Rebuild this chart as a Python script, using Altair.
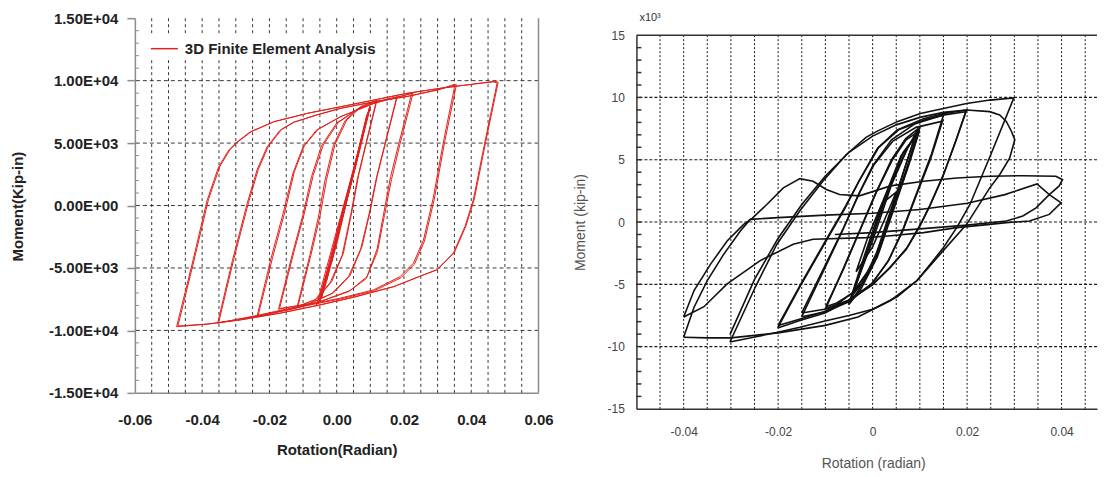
import altair as alt
import pandas as pd

FONT = "Liberation Sans"

# ================= Left panel: 3D finite element analysis =================
# (rotation in radian, moment in kip-in)
fe_e1 = [(-0.0015, -4500), (0.0020, -600), (0.0055, 3300), (0.0072, 5000), (0.0045, 2000), (0.0005, -2200), (-0.0015, -4500)]
fe_e2 = [(-0.0030, -6000), (0.0015, -1000), (0.0060, 3800), (0.0085, 6500), (0.0055, 3000), (0.0000, -2800), (-0.0030, -6000)]
fe_e3 = [(-0.0045, -7400), (0.0010, -1500), (0.0065, 4400), (0.0095, 7600), (0.0060, 3800), (-0.0005, -3200), (-0.0045, -7400)]
fe_e4 = [(-0.0055, -7900), (0.0005, -1800), (0.0068, 4500), (0.0099, 7960), (0.0062, 3900), (-0.0010, -3800), (-0.0055, -7900)]
fe_e5 = [(-0.0060, -7960), (0.0000, -2000), (0.0070, 4800), (0.0100, 7900), (0.0060, 3500), (-0.0015, -4200), (-0.0060, -7960)]
fe_e6 = [(-0.0040, -7000), (0.0012, -1200), (0.0062, 4200), (0.0090, 7300), (0.0058, 3600), (0.0002, -2900), (-0.0040, -7000)]
fe_e7 = [(-0.0050, -7700), (0.0008, -1400), (0.0066, 4600), (0.0097, 7800), (0.0064, 4100), (-0.0004, -3300), (-0.0050, -7700)]
fe_12a = [(-0.0118, -8140), (-0.0080, -4000), (-0.0055, -1000), (-0.0035, 2000), (-0.0010, 4800), (0.0025, 6800),
          (0.0070, 7900), (0.0120, 8450), (0.0090, 5200), (0.0065, 2400), (0.0045, -500), (0.0020, -3800),
          (-0.0015, -6100), (-0.0060, -7500), (-0.0118, -8140)]
fe_12b = [(-0.0115, -8050), (-0.0076, -3900), (-0.0050, -900), (-0.0030, 2100), (-0.0005, 4900), (0.0030, 6850),
          (0.0075, 7950), (0.0118, 8380), (0.0088, 5100), (0.0062, 2200), (0.0042, -700), (0.0016, -4000),
          (-0.0020, -6200), (-0.0065, -7550), (-0.0115, -8050)]
fe_18a = [(-0.0173, -8300), (-0.0130, -3700), (-0.0100, -700), (-0.0075, 2300), (-0.0045, 4800), (0.0000, 6600),
          (0.0060, 7700), (0.0120, 8300), (0.0180, 8720), (0.0145, 5000), (0.0120, 2300), (0.0100, -400),
          (0.0075, -3300), (0.0040, -5600), (-0.0010, -7000), (-0.0080, -7850), (-0.0173, -8300)]
fe_18b = [(-0.0170, -8250), (-0.0126, -3600), (-0.0096, -600), (-0.0070, 2400), (-0.0040, 4850), (0.0005, 6650),
          (0.0065, 7750), (0.0125, 8350), (0.0178, 8650), (0.0143, 4900), (0.0117, 2100), (0.0097, -600),
          (0.0071, -3500), (0.0035, -5700), (-0.0015, -7050), (-0.0085, -7900), (-0.0170, -8250)]
fe_23a = [(-0.0237, -8900), (-0.0195, -4200), (-0.0160, -700), (-0.0130, 2600), (-0.0100, 4700), (-0.0060, 6050),
          (0.0010, 7100), (0.0110, 8180), (0.0223, 8980), (0.0185, 5000), (0.0160, 2300), (0.0140, -600),
          (0.0120, -3500), (0.0090, -5700), (0.0040, -6800), (-0.0040, -7600), (-0.0120, -8200), (-0.0237, -8900)]
fe_23b = [(-0.0234, -8850), (-0.0190, -4100), (-0.0155, -600), (-0.0126, 2700), (-0.0096, 4800), (-0.0055, 6100),
          (0.0015, 7150), (0.0115, 8230), (0.0227, 9000), (0.0188, 4900), (0.0163, 2100), (0.0142, -800),
          (0.0121, -3700), (0.0088, -5850), (0.0035, -6900), (-0.0045, -7650), (-0.0125, -8250), (-0.0234, -8850)]
fe_35a = [(-0.0354, -9420), (-0.0310, -4400), (-0.0266, 180), (-0.0237, 2840), (-0.0207, 4700), (-0.0168, 6040),
          (-0.0130, 6650), (-0.0060, 7250), (0.0010, 7770), (0.0110, 8300), (0.0208, 8720), (0.0300, 9250),
          (0.0352, 9720), (0.0318, 5200), (0.0287, 600), (0.0258, -2760), (0.0228, -4620), (0.0188, -5700),
          (0.0109, -6760), (0.0010, -7420), (-0.0138, -8220), (-0.0237, -8800), (-0.0354, -9420)]
fe_35b = [(-0.0351, -9380), (-0.0306, -4300), (-0.0262, 250), (-0.0233, 2900), (-0.0203, 4750), (-0.0164, 6080),
          (-0.0126, 6680), (-0.0056, 7280), (0.0014, 7800), (0.0114, 8330), (0.0212, 8750), (0.0302, 9280),
          (0.0356, 9680), (0.0321, 5100), (0.0290, 500), (0.0261, -2850), (0.0231, -4700), (0.0191, -5780),
          (0.0112, -6820), (0.0013, -7470), (-0.0135, -8260), (-0.0234, -8840), (-0.0351, -9380)]
fe_48a = [(-0.0476, -9700), (-0.0430, -4700), (-0.0385, 440), (-0.0351, 3100), (-0.0321, 4440), (-0.0296, 5100),
          (-0.0257, 5900), (-0.0188, 6700), (-0.0088, 7380), (0.0010, 7900), (0.0109, 8440), (0.0208, 8980),
          (0.0307, 9380), (0.0406, 9720), (0.0465, 9900), (0.0477, 9820), (0.0440, 5000), (0.0406, 440),
          (0.0381, -1700), (0.0347, -3800), (0.0297, -5160), (0.0258, -5560), (0.0169, -6500), (0.0050, -7350),
          (-0.0049, -7960), (-0.0168, -8620), (-0.0286, -9160), (-0.0385, -9500), (-0.0476, -9700)]
fe_48b = [(-0.0472, -9650), (-0.0426, -4600), (-0.0381, 500), (-0.0347, 3150), (-0.0317, 4480), (-0.0292, 5130),
          (-0.0253, 5930), (-0.0184, 6730), (-0.0084, 7400), (0.0014, 7920), (0.0113, 8460), (0.0212, 9000),
          (0.0311, 9400), (0.0410, 9740), (0.0470, 9950), (0.0480, 9880), (0.0443, 5100), (0.0409, 500),
          (0.0384, -1650), (0.0350, -3750), (0.0300, -5120), (0.0261, -5520), (0.0172, -6470), (0.0053, -7320),
          (-0.0046, -7930), (-0.0165, -8600), (-0.0283, -9140), (-0.0382, -9480), (-0.0472, -9650)]

fe_loops = [("e1", fe_e1), ("e2", fe_e2), ("e3", fe_e3), ("e4", fe_e4), ("e5", fe_e5),
            ("e6", fe_e6), ("e7", fe_e7),
            ("12a", fe_12a), ("12b", fe_12b), ("18a", fe_18a), ("18b", fe_18b),
            ("23a", fe_23a), ("23b", fe_23b), ("35a", fe_35a), ("35b", fe_35b),
            ("48a", fe_48a), ("48b", fe_48b)]
FE_SERIES = "3D Finite Element Analysis"

left_x_ticks = [-0.06, -0.04, -0.02, 0.0, 0.02, 0.04, 0.06]
left_y_ticks = [-15000, -10000, -5000, 0, 5000, 10000, 15000]
left_x_grid = [-0.055, -0.05, -0.045, -0.04, -0.035, -0.03, -0.025, -0.02, -0.015, -0.01, -0.005, 0.0,
               0.005, 0.01, 0.015, 0.02, 0.025, 0.03, 0.035, 0.04, 0.045, 0.05, 0.055]
left_y_grid = [-10000, -5000, 0, 5000, 10000]
left_y_minor = [-14000, -13000, -12000, -11000, -9000, -8000, -7000, -6000, -4000, -3000, -2000, -1000,
                1000, 2000, 3000, 4000, 6000, 7000, 8000, 9000, 11000, 12000, 13000, 14000]

# ================= Right panel: experiment (moment x10^3 kip-in) =================
exp_e1 = [(-0.0035, -4.0), (-0.0010, -1.2), (0.0020, 1.5), (0.0050, 2.4), (0.0030, 0.6), (0.0000, -2.0), (-0.0035, -4.0)]
exp_e2 = [(-0.0051, -6.65), (-0.0020, -3.0), (0.0020, 1.5), (0.0060, 5.3), (0.0099, 7.3), (0.0075, 4.4),
          (0.0040, 0.5), (0.0010, -2.8), (-0.0025, -5.4), (-0.0051, -6.65)]
exp_e3 = [(-0.0048, -6.5), (-0.0015, -2.8), (0.0025, 1.8), (0.0065, 5.6), (0.0095, 7.1), (0.0070, 4.0),
          (0.0035, 0.2), (0.0005, -3.0), (-0.0030, -5.5), (-0.0048, -6.5)]
exp_e4 = [(-0.0045, -6.0), (0.0000, -1.5), (0.0040, 3.0), (0.0075, 6.0), (0.0095, 7.4), (0.0072, 4.8),
          (0.0045, 1.5), (0.0015, -2.2), (-0.0020, -4.8), (-0.0045, -6.0)]
exp_e5 = [(-0.0040, -5.6), (-0.0008, -2.0), (0.0032, 2.4), (0.0070, 5.7), (0.0090, 6.9), (0.0066, 4.1),
          (0.0038, 0.9), (0.0008, -2.5), (-0.0022, -4.9), (-0.0040, -5.6)]
exp_10a = [(-0.0100, -7.0), (-0.0065, -4.0), (-0.0030, -0.9), (0.0005, 2.2), (0.0040, 5.0), (0.0070, 6.7),
           (0.0100, 7.6), (0.0075, 4.6), (0.0050, 1.8), (0.0025, -1.0), (0.0000, -3.4), (-0.0040, -5.6),
           (-0.0075, -6.6), (-0.0100, -7.0)]
exp_10b = [(-0.0099, -6.8), (-0.0062, -3.8), (-0.0027, -0.7), (0.0008, 2.4), (0.0042, 5.0), (0.0071, 6.6),
           (0.0098, 7.3), (0.0073, 4.3), (0.0048, 1.5), (0.0022, -1.3), (-0.0003, -3.6), (-0.0042, -5.7),
           (-0.0076, -6.5), (-0.0099, -6.8)]
exp_15a = [(-0.0150, -7.6), (-0.0105, -4.0), (-0.0065, -0.8), (-0.0030, 2.2), (0.0000, 4.5), (0.0040, 6.6),
           (0.0090, 7.9), (0.0150, 8.6), (0.0125, 5.5), (0.0095, 2.5), (0.0065, -0.5), (0.0035, -3.0),
           (0.0000, -4.9), (-0.0050, -6.4), (-0.0100, -7.2), (-0.0150, -7.6)]
exp_15b = [(-0.0150, -7.3), (-0.0102, -3.6), (-0.0062, -0.5), (-0.0027, 2.4), (0.0003, 4.6), (0.0043, 6.5),
           (0.0092, 7.6), (0.0148, 8.1), (0.0123, 5.1), (0.0093, 2.2), (0.0063, -0.8), (0.0032, -3.2),
           (-0.0003, -5.0), (-0.0052, -6.3), (-0.0102, -7.0), (-0.0150, -7.3)]
exp_20a = [(-0.0201, -8.5), (-0.0154, -5.2), (-0.0098, -1.5), (-0.0060, 1.0), (-0.0030, 3.2), (0.0010, 5.9),
           (0.0052, 7.4), (0.0108, 8.3), (0.0150, 8.7), (0.0199, 9.0), (0.0178, 6.7), (0.0150, 3.8),
           (0.0122, 1.4), (0.0101, -0.2), (0.0073, -2.05), (0.0038, -3.6), (0.0000, -5.0), (-0.0050, -6.3),
           (-0.0101, -7.3), (-0.0154, -7.9), (-0.0201, -8.5)]
exp_20b = [(-0.0200, -8.3), (-0.0151, -4.9), (-0.0095, -1.2), (-0.0057, 1.3), (-0.0027, 3.4), (0.0013, 6.0),
           (0.0055, 7.4), (0.0110, 8.2), (0.0152, 8.6), (0.0197, 8.85), (0.0176, 6.5), (0.0148, 3.6),
           (0.0120, 1.2), (0.0099, -0.4), (0.0071, -2.2), (0.0036, -3.7), (-0.0002, -5.1), (-0.0052, -6.3),
           (-0.0103, -7.2), (-0.0155, -7.8), (-0.0200, -8.3)]
exp_30a = [(-0.0302, -9.63), (-0.0248, -5.2), (-0.0203, -1.8), (-0.0154, 0.9), (-0.0105, 3.3), (-0.0056, 5.4),
           (-0.0014, 6.8), (0.0010, 7.3), (0.0052, 8.06), (0.0101, 8.72), (0.0150, 9.12), (0.0199, 9.52),
           (0.0248, 9.79), (0.0299, 9.97), (0.0250, 5.4), (0.0206, 1.41), (0.0178, -0.45), (0.0150, -2.05),
           (0.0122, -3.4), (0.0094, -4.7), (0.0052, -6.0), (0.0000, -7.0), (-0.0050, -7.5), (-0.0101, -7.95),
           (-0.0154, -8.45), (-0.0201, -8.85), (-0.0252, -9.25), (-0.0302, -9.63)]
exp_30b = [(-0.0302, -9.04), (-0.0250, -4.6), (-0.0200, -1.3), (-0.0150, 1.4), (-0.0100, 3.7), (-0.0050, 5.6),
           (0.0000, 6.9), (0.0050, 7.8), (0.0100, 8.4), (0.0150, 8.8), (0.0199, 8.99), (0.0248, 8.86),
           (0.0269, 8.6), (0.0283, 8.07), (0.0294, 7.27), (0.0301, 6.6), (0.0290, 5.13), (0.0269, 3.8),
           (0.0248, 2.74), (0.0199, -0.19), (0.0143, -2.58), (0.0094, -4.7), (0.0038, -6.3), (-0.0031, -7.63),
           (-0.0100, -8.3), (-0.0200, -8.9), (-0.0300, -9.3), (-0.0350, -9.3), (-0.0400, -9.25)]
exp_40a = [(-0.0400, -9.25), (-0.0378, -6.84), (-0.0350, -4.7), (-0.0315, -2.58), (-0.0280, -0.72),
           (-0.0259, 0.21), (-0.0200, 0.35), (-0.0100, 0.55), (0.0000, 0.7), (0.0100, 1.0), (0.0200, 1.5),
           (0.0280, 2.2), (0.0348, 3.06), (0.0374, 2.2), (0.0399, 1.54), (0.0374, 0.61), (0.0332, 0.08),
           (0.0283, -0.05), (0.0248, -0.19), (0.0178, -0.45), (0.0108, -0.85), (0.0038, -1.1), (-0.0014, -1.25),
           (-0.0126, -1.38), (-0.0168, -1.78), (-0.0238, -3.1), (-0.0308, -4.97), (-0.0357, -6.8), (-0.0400, -7.63)]
exp_40b = [(-0.0400, -7.63), (-0.0378, -5.5), (-0.0343, -3.38), (-0.0308, -1.52), (-0.0273, -0.19),
           (-0.0255, 0.29), (-0.0224, 1.41), (-0.0189, 2.74), (-0.0154, 3.48), (-0.0126, 3.27), (-0.0098, 2.61),
           (-0.0070, 2.21), (-0.0028, 2.1), (0.0038, 2.9), (0.0108, 3.27), (0.0178, 3.54), (0.0248, 3.67),
           (0.0318, 3.72), (0.0388, 3.67), (0.0402, 3.4), (0.0395, 2.9), (0.0374, 2.2), (0.0346, 1.14),
           (0.0318, 0.48), (0.0283, 0.08), (0.0200, -0.25), (0.0100, -0.55), (0.0000, -0.85), (-0.0080, -1.0)]

exp_loops = [("e1", exp_e1), ("e2", exp_e2), ("e3", exp_e3), ("e4", exp_e4), ("e5", exp_e5),
             ("10a", exp_10a), ("10b", exp_10b), ("15a", exp_15a), ("15b", exp_15b),
             ("20a", exp_20a), ("20b", exp_20b), ("30a", exp_30a), ("30b", exp_30b),
             ("40a", exp_40a), ("40b", exp_40b)]

right_x_ticks = [-0.04, -0.02, 0.0, 0.02, 0.04]
right_y_ticks = [-15, -10, -5, 0, 5, 10, 15]
right_x_grid = [-0.045, -0.04, -0.035, -0.03, -0.025, -0.02, -0.015, -0.01, -0.005, 0.0,
                0.005, 0.01, 0.015, 0.02, 0.025, 0.03, 0.035, 0.04, 0.045]
right_y_grid = [-10, -5, 0, 5, 10]
right_y_minor = [-14, -13, -12, -11, -9, -8, -7, -6, -4, -3, -2, -1, 1, 2, 3, 4, 6, 7, 8, 9, 11, 12, 13, 14,
                 -10, -5, 0, 5, 10]


def loops_frame(loops, series):
    rows = []
    for name, pts in loops:
        for i, (x, y) in enumerate(pts):
            rows.append({"loop": name, "i": i, "x": x, "y": y, "series": series})
    return pd.DataFrame(rows)


fe_df = loops_frame(fe_loops, FE_SERIES)
exp_df = loops_frame(exp_loops, "Experiment")

MINUS = "\u2212"

# ----------------------------- left chart -----------------------------
xs_l = alt.Scale(domain=[-0.06, 0.06], nice=False, zero=False)
ys_l = alt.Scale(domain=[-15000, 15000], nice=False, zero=False)
L_GRAY = "#8c8c8c"

ax_xl = alt.Axis(
    values=left_x_ticks,
    labelExpr=f"replace(format(datum.value, '.2f'), '{MINUS}', '-')",
    ticks=False, tickSize=0, grid=False,
    domainColor=L_GRAY, domainWidth=1.5,
    labelFont=FONT, labelFontSize=15, labelFontWeight="bold", labelColor="#222",
    labelPadding=20, labelFlush=False, labelOverlap=False,
    title="Rotation(Radian)", titleFont=FONT, titleFontSize=15, titleFontWeight="bold",
    titleColor="#222", titleY=57, titleBaseline="middle",
)
ax_yl = alt.Axis(
    values=left_y_ticks,
    labelExpr=f"replace(replace(replace(format(datum.value, '.2e'), 'e+', 'E+0'), 'e-', 'E-0'), '{MINUS}', '-')",
    ticks=True, tickSize=8, tickColor=L_GRAY, tickWidth=1.5, grid=False,
    domainColor=L_GRAY, domainWidth=1.5,
    labelFont=FONT, labelFontSize=15, labelFontWeight="bold", labelColor="#222",
    labelPadding=9, labelFlush=False, labelOverlap=False,
    title="Moment(Kip-in)", titleFont=FONT, titleFontSize=15, titleFontWeight="bold",
    titleColor="#222", titleAngle=270, titleX=-117, titleY=188,
    titleAlign="center", titleBaseline="middle",
)

l_vgrid = alt.Chart(pd.DataFrame({"v": left_x_grid})).mark_rule(
    color="#3a3a3a", strokeDash=[3, 3], strokeWidth=1
).encode(x=alt.X("v:Q", scale=xs_l, axis=ax_xl))

l_hgrid = alt.Chart(pd.DataFrame({"h": left_y_grid})).mark_rule(
    color="#3a3a3a", strokeDash=[4, 3], strokeWidth=1
).encode(y=alt.Y("h:Q", scale=ys_l, axis=ax_yl))

l_border = alt.Chart(pd.DataFrame({"v": [0.06]})).mark_rule(
    color=L_GRAY, strokeWidth=1.5
).encode(x=alt.X("v:Q", scale=xs_l, axis=ax_xl))

l_minor = alt.Chart(pd.DataFrame({"m": left_y_minor})).mark_rule(
    color=L_GRAY, strokeWidth=1
).encode(y=alt.Y("m:Q", scale=ys_l, axis=ax_yl), x=alt.value(0), x2=alt.value(4))

l_lines = alt.Chart(fe_df).mark_line(strokeWidth=1, interpolate="linear").encode(
    x=alt.X("x:Q", scale=xs_l, axis=ax_xl),
    y=alt.Y("y:Q", scale=ys_l, axis=ax_yl),
    color=alt.Color("series:N", scale=alt.Scale(domain=[FE_SERIES], range=["#e3201b"]),
                    legend=alt.Legend(
                        title=None, orient="none", legendX=15, legendY=16,
                        symbolType="stroke", symbolSize=729, symbolStrokeWidth=1.5,
                        labelFont=FONT, labelFontSize=15, labelFontWeight="bold",
                        labelColor="#222", labelOffset=6, labelLimit=400,
                        fillColor="white", padding=0,
                    )),
    detail="loop:N",
    order="i:Q",
)

left = alt.layer(l_vgrid, l_hgrid, l_border, l_minor, l_lines).properties(width=404, height=375)

# ----------------------------- right chart -----------------------------
xs_r = alt.Scale(domain=[-0.05, 0.0475], nice=False, zero=False)
ys_r = alt.Scale(domain=[-15, 15], range=[391, 17], nice=False, zero=False)
R_DARK = "#333333"

ax_xr = alt.Axis(
    values=right_x_ticks,
    labelExpr=f"datum.value == 0 ? '0' : replace(format(datum.value, '.2f'), '{MINUS}', '-')",
    ticks=False, tickSize=0, grid=False,
    domainColor=R_DARK, domainWidth=1.5,
    labelFont=FONT, labelFontSize=12, labelColor="#444",
    labelPadding=18, labelFlush=False, labelOverlap=False,
    title="Rotation (radian)", titleFont=FONT, titleFontSize=14, titleFontWeight="normal",
    titleColor="#555", titleX=237, titleY=55, titleBaseline="middle",
)
ax_yr = alt.Axis(
    values=right_y_ticks,
    labelExpr=f"replace(format(datum.value, 'd'), '{MINUS}', '-')",
    ticks=False, tickSize=0, grid=False,
    domainColor=R_DARK, domainWidth=1.5,
    labelFont=FONT, labelFontSize=12, labelColor="#444",
    labelPadding=12, labelFlush=False, labelOverlap=False,
    title="Moment (kip-in)", titleFont=FONT, titleFontSize=14, titleFontWeight="normal",
    titleColor="#555", titleAngle=270, titleX=-56, titleY=204,
    titleAlign="center", titleBaseline="middle",
)

r_vgrid = alt.Chart(pd.DataFrame({"v": right_x_grid, "y0": [15] * len(right_x_grid),
                                  "y1": [-15] * len(right_x_grid)})).mark_rule(
    color="#1a1a1a", strokeDash=[2, 2], strokeWidth=1
).encode(x=alt.X("v:Q", scale=xs_r, axis=ax_xr),
         y=alt.Y("y0:Q", scale=ys_r, axis=ax_yr), y2="y1:Q")

r_hgrid = alt.Chart(pd.DataFrame({"h": right_y_grid})).mark_rule(
    color="#1a1a1a", strokeDash=[3, 2], strokeWidth=1.2
).encode(y=alt.Y("h:Q", scale=ys_r, axis=ax_yr))

r_top = alt.Chart(pd.DataFrame({"t": [15]})).mark_rule(
    color=R_DARK, strokeWidth=1.5
).encode(y=alt.Y("t:Q", scale=ys_r, axis=ax_yr))

r_minor = alt.Chart(pd.DataFrame({"m": right_y_minor})).mark_rule(
    color=R_DARK, strokeWidth=1.5
).encode(y=alt.Y("m:Q", scale=ys_r, axis=ax_yr), x=alt.value(0), x2=alt.value(5))

r_lines = alt.Chart(exp_df).mark_line(strokeWidth=1.6, color="#111111", interpolate="linear").encode(
    x=alt.X("x:Q", scale=xs_r, axis=ax_xr),
    y=alt.Y("y:Q", scale=ys_r, axis=ax_yr),
    detail="loop:N",
    order="i:Q",
)

right = alt.layer(r_vgrid, r_hgrid, r_top, r_minor, r_lines).properties(
    width=461, height=391,
    title=alt.TitleParams(text="x10\u00b3", anchor="start", frame="group", fontSize=11,
                          font=FONT, fontWeight="normal", color="#333",
                          baseline="middle", offset=-11, dx=3),
)

chart = alt.hconcat(left, right, spacing=98, bounds="flush").resolve_scale(
    x="independent", y="independent", color="independent"
).properties(
    padding={"left": 2, "top": 2, "right": 0, "bottom": 0},
    background="white",
).configure_view(stroke="transparent")

chart.save("out.html", embed_options={"renderer": "svg", "actions": False})
